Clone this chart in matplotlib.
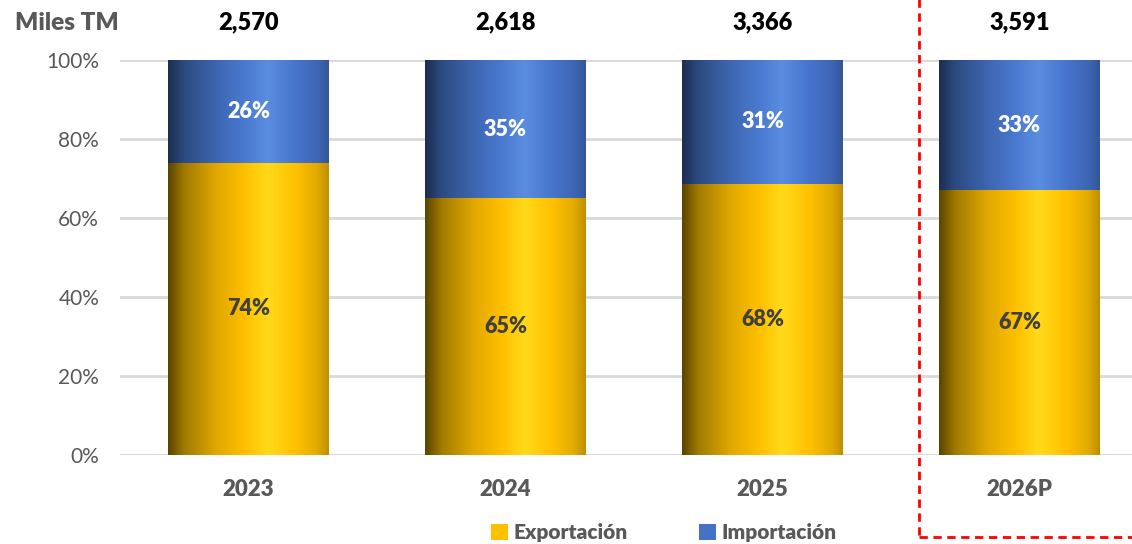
import matplotlib
matplotlib.use("Agg")
import matplotlib.pyplot as plt
import numpy as np
from matplotlib.colors import LinearSegmentedColormap
from matplotlib.patches import Rectangle, Patch

years = ["2023", "2024", "2025", "2026P"]
totales = [2570, 2618, 3366, 3591]          # miles TM
exportacion = [74, 65, 68, 67]              # % del total
importacion = [26, 35, 31, 33]

plt.rcParams["font.family"] = ["Lato", "DejaVu Sans"]

GRIS = "#595959"
NEGRITA = "heavy"

# sombreado tipo cilindro (oscuro a la izquierda, brillo a la derecha del centro)
oro = LinearSegmentedColormap.from_list("oro", [
    (0.00, "#5a4500"), (0.10, "#a07a00"), (0.30, "#e0a800"),
    (0.48, "#ffc000"), (0.62, "#ffda1a"), (0.80, "#ffc000"),
    (0.93, "#e0aa00"), (1.00, "#c08f00")])
azul = LinearSegmentedColormap.from_list("azul", [
    (0.00, "#1c2d50"), (0.10, "#2c4a80"), (0.30, "#3d66b0"),
    (0.48, "#4a7ad0"), (0.62, "#5a8de0"), (0.80, "#4674cc"),
    (0.93, "#3d66b4"), (1.00, "#34569a")])

fig = plt.figure(figsize=(11.32, 5.44), dpi=100)
ax = fig.add_axes([120 / 1132, 89 / 544, 1012 / 1132, 395 / 544])

x = np.arange(len(years))
tot = np.array(exportacion, float) + np.array(importacion, float)
exp_h = np.array(exportacion) / tot * 100
imp_h = np.array(importacion) / tot * 100

ancho = 0.623
b1 = ax.bar(x, exp_h, width=ancho, color="none", edgecolor="none", zorder=3)
b2 = ax.bar(x, imp_h, bottom=exp_h, width=ancho, color="none",
            edgecolor="none", zorder=3)

grad = np.linspace(0, 1, 256).reshape(1, -1)
for barras, cmap in ((b1, oro), (b2, azul)):
    for p in barras:
        x0, y0 = p.get_x(), p.get_y()
        im = ax.imshow(grad, cmap=cmap, aspect="auto", zorder=2,
                       extent=(x0, x0 + p.get_width(), y0, y0 + p.get_height()),
                       interpolation="bicubic")
        im.set_clip_path(p)

for i in range(len(years)):
    ax.text(x[i], exp_h[i] / 2, f"{exportacion[i]}%", ha="center", va="center",
            fontsize=15.5, fontweight=NEGRITA, color="#404040", zorder=4)
    ax.text(x[i], exp_h[i] + imp_h[i] / 2, f"{importacion[i]}%", ha="center",
            va="center", fontsize=15.5, fontweight=NEGRITA, color="white",
            zorder=4)
    ax.annotate(f"{totales[i]:,}", (x[i], 100), xytext=(0, 27),
                textcoords="offset points", ha="center", va="center",
                fontsize=17, fontweight=NEGRITA, color="black",
                annotation_clip=False)

ax.set_xlim(-0.5, 3 + (1132 - 1019.5) / 256.8)
ax.set_ylim(0, 100)
ax.set_yticks(range(0, 101, 20))
ax.set_yticklabels([f"{v}%" for v in range(0, 101, 20)])
ax.set_xticks(x)
ax.set_xticklabels(years, fontweight=NEGRITA)
ax.tick_params(axis="y", length=0, pad=15, labelsize=15, labelcolor=GRIS)
ax.tick_params(axis="x", length=0, pad=17, labelsize=16, labelcolor=GRIS)
ax.yaxis.grid(True, color="#d9d9d9", linewidth=2)
ax.set_axisbelow(True)
for s in ax.spines.values():
    s.set_visible(False)
ax.axhline(0, color="#d9d9d9", linewidth=2, zorder=1)

fig.text(15 / 1132, 1 - 23 / 544, "Miles TM", ha="left", va="center",
         fontsize=17.5, fontweight=NEGRITA, color=GRIS)

# recuadro de la proyección
fig.patches.append(Rectangle((919 / 1132, 7 / 544), 0.2, 1.0,
                             transform=fig.transFigure, fill=False,
                             edgecolor="#ff0000", linestyle=(0, (3, 2)),
                             linewidth=2, clip_on=False))

handles = [Patch(facecolor="#ffc000"), Patch(facecolor="#4472c4")]
fig.legend(handles, ["Exportación", "Importación"], loc="center",
           bbox_to_anchor=(664 / 1132, 11 / 544), ncol=2, frameon=False,
           handlelength=0.8, handleheight=0.8, handletextpad=0.3,
           columnspacing=3.4, prop={"size": 15, "weight": NEGRITA},
           labelcolor=GRIS)

fig.savefig("out.png", dpi=100)
